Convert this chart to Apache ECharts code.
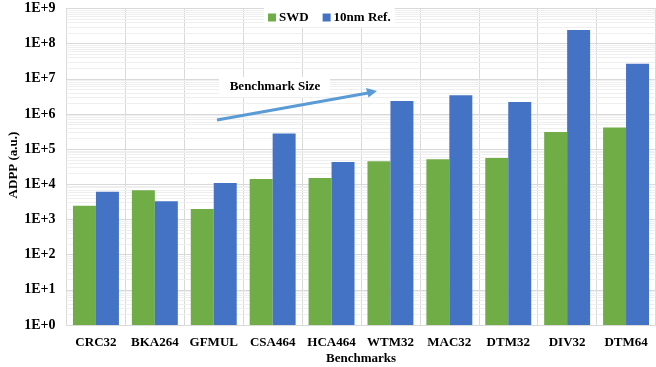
<!DOCTYPE html>
<html><head><meta charset="utf-8">
<script src="https://cdn.jsdelivr.net/npm/echarts@6/dist/echarts.min.js"></script>
<style>html,body{margin:0;padding:0;background:#fff}#c{width:656px;height:367px}</style>
</head><body><div id="c"></div>
<script>
var categories = ['CRC32','BKA264','GFMUL','CSA464','HCA464','WTM32','MAC32','DTM32','DIV32','DTM64'];
var swd = [2470, 6800, 2000, 14200, 15200, 45500, 51700, 56000, 310000, 410000];
var ref10nm = [6200, 3300, 11000, 277000, 43500, 2350000, 3400000, 2200000, 246000000, 27000000];
var seriesNames = ['SWD', '10nm Ref.'];
var yAxisTitle = 'ADPP (a.u.)';
var yMin = 1, yMax = 1e9;

var minorLines = [];
for (var d = 0; d < 9; d++) {
  for (var m = 2; m <= 9; m++) minorLines.push({yAxis: m * Math.pow(10, d)});
}
var font = '"Liberation Serif", "DejaVu Serif", serif';
var chart = echarts.init(document.getElementById('c'), null, {renderer: 'canvas'});
chart.setOption({
  animation: false,
  textStyle: {fontFamily: font},
  grid: {left: 66.5, right: 0.5, top: 8.5, bottom: 42, containLabel: false, outerBoundsMode: 'none'},
  legend: {
    data: seriesNames, top: 8, left: 264, itemWidth: 8, itemHeight: 8, itemGap: 14,
    backgroundColor: '#fff', padding: [3, 4],
    textStyle: {fontFamily: font, fontWeight: 'bold', fontSize: 13, color: '#000', padding: [0, 0, 0, -2]},
    icon: 'rect'
  },
  xAxis: {
    type: 'category', data: categories,
    name: 'Benchmarks', nameLocation: 'middle', nameGap: 27, nameMoveOverlap: false,
    nameTextStyle: {fontFamily: font, fontWeight: 'bold', fontSize: 13, color: '#000'},
    axisLine: {lineStyle: {color: '#d9d9d9', width: 1}},
    axisTick: {show: false},
    axisLabel: {fontFamily: font, fontWeight: 'bold', fontSize: 13, color: '#000', margin: 11, interval: 0},
    splitLine: {show: true, interval: 0, lineStyle: {color: '#d9d9d9', width: 1}}
  },
  yAxis: {
    type: 'log', logBase: 10, min: yMin, max: yMax,
    axisLine: {show: true, lineStyle: {color: '#d9d9d9'}},
    axisTick: {show: false},
    axisLabel: {fontFamily: font, fontWeight: 'bold', fontSize: 14, color: '#000', margin: 11,
      formatter: function (v) { return '1E+' + Math.round(Math.log10(v)); }},
    splitLine: {show: true, lineStyle: {color: '#d9d9d9', width: 1}}
  },
  series: [
    {name: seriesNames[0], type: 'bar', data: swd, barGap: '0%', barCategoryGap: '22%',
      itemStyle: {color: '#70AD47'},
      markLine: {silent: true, symbol: 'none', z: 1, label: {show: false},
        lineStyle: {color: '#efefef', width: 1, type: 'solid'}, data: minorLines}},
    {name: seriesNames[1], type: 'bar', data: ref10nm, barGap: '0%', barCategoryGap: '22%',
      itemStyle: {color: '#4472C4'}}
  ],
  graphic: [
    {type: 'text', x: 14, y: 165, rotation: Math.PI / 2,
      style: {text: yAxisTitle, font: 'bold 13px ' + font, fill: '#000', textAlign: 'center', textVerticalAlign: 'middle'}},
    {type: 'line', shape: {x1: 217, y1: 120, x2: 368, y2: 93}, style: {stroke: '#5B9BD5', lineWidth: 3}, z: 100},
    {type: 'polygon', shape: {points: [[377, 91], [366, 88], [368.5, 97.5]]}, style: {fill: '#5B9BD5'}, z: 100},
    {type: 'rect', shape: {x: 219, y: 77, width: 111, height: 20}, style: {fill: '#fff'}, z: 99},
    {type: 'text', x: 275, y: 87, style: {text: 'Benchmark Size', font: 'bold 13px ' + font, fill: '#000', textAlign: 'center', textVerticalAlign: 'middle'}, z: 101}
  ]
});
</script></body></html>
